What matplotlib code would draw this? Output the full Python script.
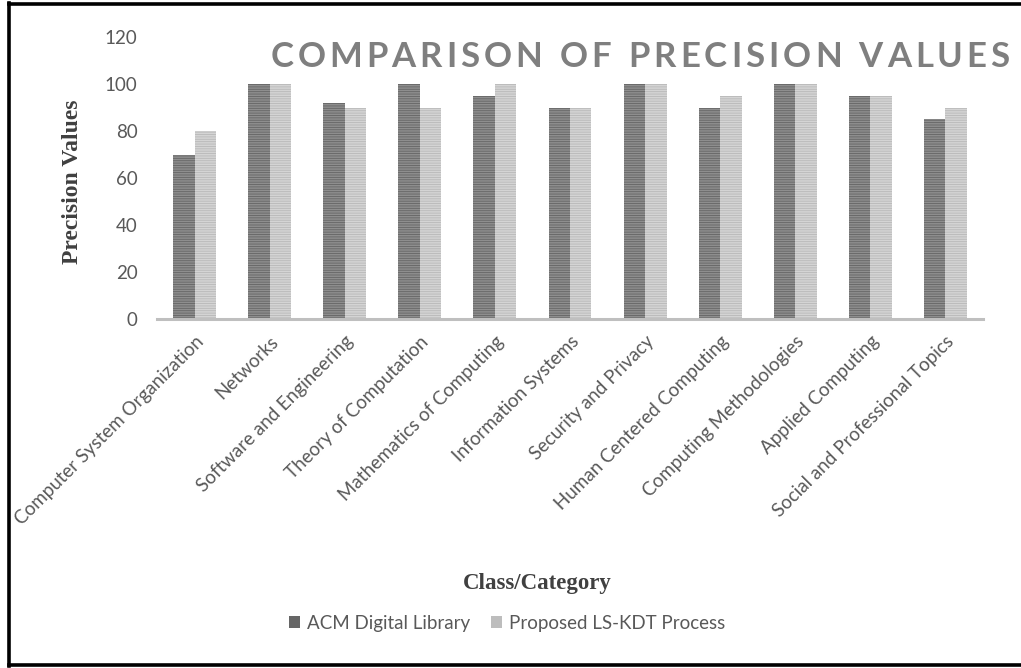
import numpy as np
import matplotlib
matplotlib.use("Agg")
import matplotlib.pyplot as plt
from matplotlib.patches import Patch
from matplotlib.lines import Line2D

categories = [
    "Computer System Organization", "Networks", "Software and Engineering",
    "Theory of Computation", "Mathematics of Computing", "Information Systems",
    "Security and Privacy", "Human Centered Computing", "Computing Methodologies",
    "Applied Computing", "Social and Professional Topics",
]
acm_values = [70, 100, 92, 100, 95, 90, 100, 90, 100, 95, 85]
lskdt_values = [80, 100, 90, 90, 100, 90, 100, 95, 100, 95, 90]
series_names = ["ACM Digital Library", "Proposed LS-KDT Process"]
y_ticks = [0, 20, 40, 60, 80, 100, 120]

plt.rcParams["hatch.linewidth"] = 0.6
sans = ["Lato", "DejaVu Sans"]
serif = ["Liberation Serif", "DejaVu Serif"]
txt_color = "#595959"

fig = plt.figure(figsize=(10.21, 6.68), dpi=100)
ax = fig.add_axes([157 / 1021, 1 - 319 / 668, 826 / 1021, 282 / 668])

x = np.arange(len(categories))
w = 0.286
ax.bar(x - w / 2, acm_values, w, color="#8e8e8e", edgecolor="#646464",
       linewidth=0, hatch="-------")
ax.bar(x + w / 2, lskdt_values, w, color="#d4d4d4", edgecolor="#b8b8b8",
       linewidth=0, hatch="-------")

ax.set_xlim(-0.5, len(categories) - 0.5)
ax.set_ylim(0, 120)
ax.set_yticks(y_ticks)
for s in ["left", "right", "top"]:
    ax.spines[s].set_visible(False)
ax.spines["bottom"].set_color("#bfbfbf")
ax.spines["bottom"].set_linewidth(2.2)
ax.tick_params(axis="both", length=0, colors=txt_color)
ax.tick_params(axis="y", pad=14, labelsize=13.5)
for lbl in ax.get_yticklabels():
    lbl.set_family(sans)

ax.set_xticks(x)
ax.set_xticklabels(categories, rotation=45, ha="right", rotation_mode="anchor",
                   family=sans, fontsize=13.5, color=txt_color)
ax.tick_params(axis="x", pad=10)

fig.text(72 / 1021, 1 - 182 / 668, "Precision Values", family=serif,
         fontweight="bold", fontsize=17, color="#404040", rotation=90,
         ha="center", va="center")
fig.text(537 / 1021, 1 - 583 / 668, "Class/Category", family=serif,
         fontweight="bold", fontsize=16.5, color="#404040",
         ha="center", va="center")

# letter-spaced title
title = "COMPARISON OF PRECISION VALUES"
renderer = fig.canvas.get_renderer()
spacing = 4.0
widths = []
for ch in title:
    t = fig.text(0, 0, ch, family=sans, fontweight="bold", fontsize=25)
    widths.append(t.get_window_extent(renderer).width if ch != " " else 9.0)
    t.remove()
total = sum(widths) + spacing * (len(title) - 1)
xpos = 640 - total / 2
for ch, cw in zip(title, widths):
    fig.text(xpos / 1021, 1 - 57 / 668, ch, family=sans, fontweight="bold",
             fontsize=25, color="#7f7f7f", ha="left", va="center")
    xpos += cw + spacing

handles = [Patch(facecolor="#666666", edgecolor="none"),
           Patch(facecolor="#bdbdbd", edgecolor="none")]
fig.legend(handles, series_names, loc="center", ncol=2,
           bbox_to_anchor=(507 / 1021, 1 - 623 / 668), frameon=False,
           handlelength=0.6, handleheight=0.6, handletextpad=0.35,
           columnspacing=1.1, prop={"family": sans, "size": 13.5},
           labelcolor=txt_color)

# black border (left, top, bottom)
for xs, ys in [([9, 9], [3, 666]), ([9, 1021], [4, 4]), ([9, 1021], [665, 665])]:
    fig.add_artist(Line2D([v / 1021 for v in xs], [1 - v / 668 for v in ys],
                          color="black", linewidth=2.6))

fig.savefig("out.png", dpi=100)
